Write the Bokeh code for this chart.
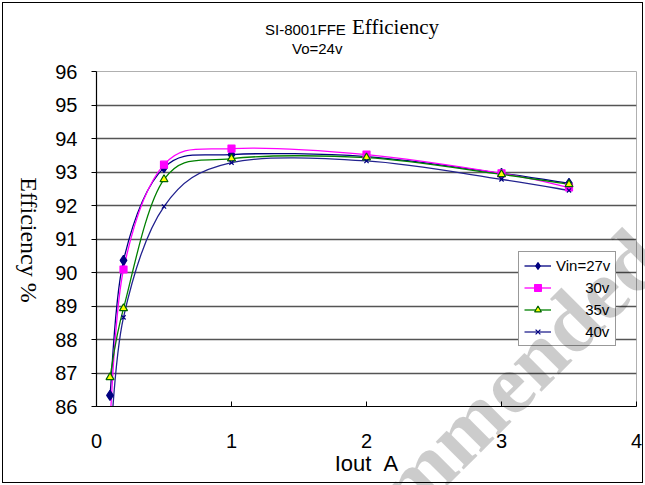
from bokeh.plotting import figure
from bokeh.models import (Legend, LegendItem, FixedTicker, Range1d,
                          ColumnDataSource, Div)
from bokeh.layouts import column, row
from bokeh.core.properties import value
from bokeh.embed import file_html
from bokeh.resources import INLINE

# ---------------- data ----------------
iout = [0.1, 0.2, 0.5, 1.0, 2.0, 3.0, 3.5]
eff_27v = [86.33, 90.36, 93.13, 93.52, 93.46, 92.96, 92.66]
eff_30v = [85.6, 90.09, 93.22, 93.70, 93.52, 92.96, 92.54]
eff_35v = [86.87, 88.93, 92.78, 93.40, 93.43, 92.93, 92.63]
eff_40v = [84.8, 88.66, 91.97, 93.28, 93.33, 92.78, 92.45]
series_labels = ["Vin=27v", "30v", "35v", "40v"]
x_ticks = [0, 1, 2, 3, 4]
y_ticks = list(range(86, 97))
title_main = "SI-8001FFE"
title_word = "Efficiency"
subtitle = "Vo=24v"
x_title = "Iout\u00a0\u00a0A"
y_title = "Efficiency %"
watermark = "Not Recommended"

# ---------------- layout ----------------
W, H = 645, 485
TOP_H = 56          # title strip height
LEFT_W = 45         # y-title strip width
FL, FR, FT, FB = 96, 636, 71, 406          # frame edges in page pixels
PW, PH = W - LEFT_W, H - TOP_H

p = figure(width=PW, height=PH, x_range=Range1d(0, 4), y_range=Range1d(86, 96),
           output_backend="svg", toolbar_location=None,
           min_border_left=FL - LEFT_W, min_border_right=W - FR,
           min_border_top=FT - TOP_H, min_border_bottom=H - FB, margin=0)
p.extra_y_ranges = {"proxy": Range1d(0, 1)}
p.outline_line_color = "#b0b0b0"
p.background_fill_color = "white"
p.border_fill_color = None

p.xaxis.ticker = FixedTicker(ticks=x_ticks)
p.yaxis.ticker = FixedTicker(ticks=y_ticks)
for ax in (p.xaxis, p.yaxis):
    ax.axis_line_color = "black"
    ax.axis_line_width = 1.2
    ax.major_tick_line_color = "black"
    ax.minor_tick_line_color = None
    ax.major_label_text_font = "Liberation Sans"
    ax.major_label_text_font_size = "20px"
    ax.major_label_text_color = "black"
p.xaxis.major_tick_in = 5
p.xaxis.major_tick_out = 0
p.xaxis.major_label_standoff = 27
p.xaxis.axis_label = x_title
p.xaxis.axis_label_text_font = "Liberation Sans"
p.xaxis.axis_label_text_font_style = "normal"
p.xaxis.axis_label_text_font_size = "22px"
p.xaxis.axis_label_text_color = "black"
p.xaxis.axis_label_standoff = 0
p.yaxis.major_tick_in = 0
p.yaxis.major_tick_out = 5
p.yaxis.major_label_standoff = 14

p.xgrid.visible = False
p.ygrid.grid_line_color = "#555555"
p.ygrid.grid_line_width = 1.4

# ---------------- series ----------------
def bezier_parts(xs, ys):
    n = len(xs)
    out = dict(x0=[], y0=[], x1=[], y1=[], cx0=[], cy0=[], cx1=[], cy1=[])
    for i in range(n - 1):
        a = i - 1 if i > 0 else i
        d = i + 2 if i + 2 < n else i + 1
        out["x0"].append(xs[i]); out["y0"].append(ys[i])
        out["x1"].append(xs[i + 1]); out["y1"].append(ys[i + 1])
        out["cx0"].append(xs[i] + (xs[i + 1] - xs[a]) / 6.0)
        out["cy0"].append(ys[i] + (ys[i + 1] - ys[a]) / 6.0)
        out["cx1"].append(xs[i + 1] - (xs[d] - xs[i]) / 6.0)
        out["cy1"].append(ys[i + 1] - (ys[d] - ys[i]) / 6.0)
    return ColumnDataSource(out)

styles = [
    dict(ys=eff_27v, line="#000080", marker="diamond", size=10, fill="#000080", mline="#000080"),
    dict(ys=eff_30v, line="#FF00FF", marker="square", size=7, fill="#FF00FF", mline="#FF00FF"),
    dict(ys=eff_35v, line="#008000", marker="triangle", size=8, fill="#FFFF00", mline="#006400"),
    dict(ys=eff_40v, line="#22228f", marker="x", size=6, fill="#000080", mline="#000080"),
]

for st in styles:
    p.bezier(x0="x0", y0="y0", x1="x1", y1="y1", cx0="cx0", cy0="cy0",
             cx1="cx1", cy1="cy1", source=bezier_parts(iout, st["ys"]),
             line_color=st["line"], line_width=1.3)
items = []
pad = "\u00a0" * 7
for i, (st, lab) in enumerate(zip(styles, series_labels)):
    src = ColumnDataSource(dict(x=iout, y=st["ys"]))
    # legend line sample (drawn on an off-screen range, shown only in the legend)
    ln = p.line(x="x", y="y", source=src, y_range_name="proxy",
                line_color=st["line"], line_width=1.3)
    mk = p.scatter(x="x", y="y", source=src, marker=st["marker"], size=st["size"],
                   fill_color=st["fill"], line_color=st["mline"], line_width=1.2)
    text = lab if i == 0 else pad + lab
    items.append(LegendItem(label=value(text), renderers=[ln, mk]))

legend = Legend(items=items, location=(518 - FL, FB - 346),
                label_text_font="Liberation Sans", label_text_font_size="15px",
                label_text_color="black", glyph_width=27, glyph_height=17,
                label_height=17, label_standoff=5, spacing=5, padding=5,
                border_line_color="#333333", border_line_width=1,
                background_fill_color="white", background_fill_alpha=1.0,
                margin=0)
p.add_layout(legend, "center")

# ---------------- title strip (HTML text) ----------------
title_html = (
    f'<div style="position:relative;width:{W}px;height:{TOP_H}px;">'
    f'<span style="position:absolute;left:265px;top:22px;line-height:1;'
    f'font-family:\'Liberation Sans\';font-size:15px;color:#000;white-space:nowrap;">{title_main}</span>'
    f'<span style="position:absolute;left:352px;top:17px;line-height:1;'
    f'font-family:\'Liberation Serif\';font-size:21px;color:#000;white-space:nowrap;">{title_word}</span>'
    f'<span style="position:absolute;left:292px;top:41px;line-height:1;'
    f'font-family:\'Liberation Sans\';font-size:15px;color:#000;white-space:nowrap;">{subtitle}</span>'
    f'<div style="position:absolute;left:678px;top:275px;width:0;height:0;z-index:10;'
    f'pointer-events:none;transform-origin:0 0;transform:rotate(-45deg);">'
    f'<span style="position:absolute;right:0;bottom:0;white-space:nowrap;line-height:1;'
    f'font-family:\'Liberation Serif\';font-weight:bold;font-size:86px;'
    f'color:rgba(0,0,0,0.2);">{watermark}</span></div>'
    f'</div>'
)
title_div = Div(text=title_html, width=W, height=TOP_H, margin=0,
                styles={"overflow": "visible", "z-index": "5"})

ylab_html = (
    f'<div style="position:relative;width:{LEFT_W}px;height:{PH}px;">'
    f'<span style="position:absolute;left:29px;top:{240 - TOP_H}px;'
    f'transform:translate(-50%,-50%);writing-mode:vertical-rl;white-space:nowrap;'
    f'font-family:\'Liberation Serif\';font-size:24px;line-height:1;color:#000;">{y_title}</span>'
    f'</div>'
)
ylab_div = Div(text=ylab_html, width=LEFT_W, height=PH, margin=0)

layout = column(title_div, row(ylab_div, p, spacing=0, margin=0), spacing=0, margin=0)
layout.styles = {"outline": "1px solid #000000", "outline-offset": "-3px"}

open("out.html", "w").write(file_html(layout, INLINE))
